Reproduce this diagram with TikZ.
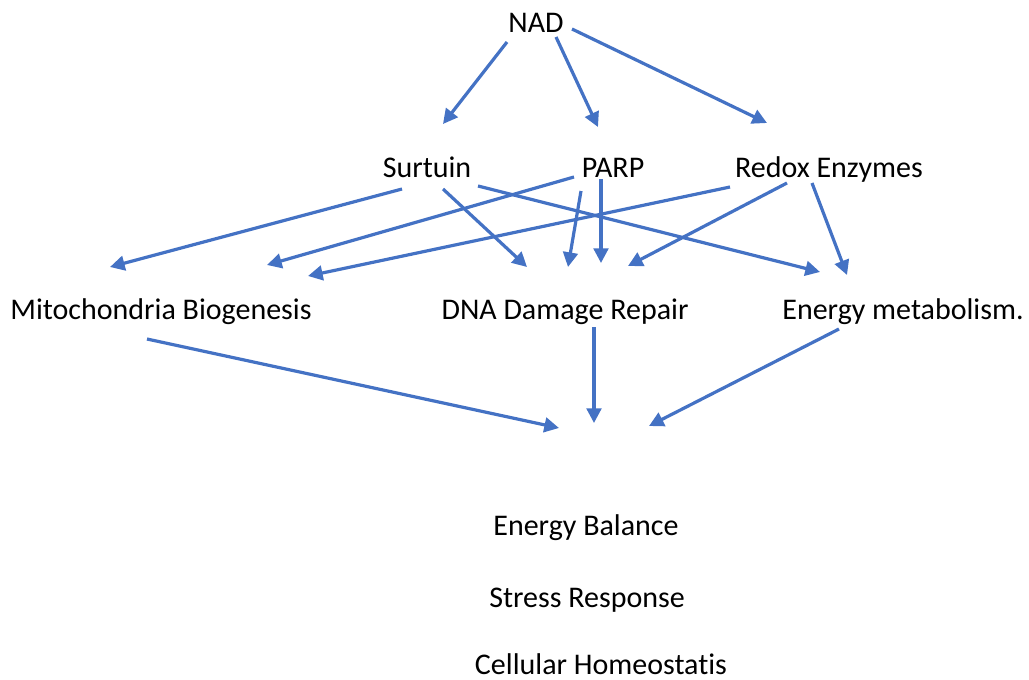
\documentclass[tikz,border=0pt]{standalone}
\usepackage{fontspec}
\setmainfont{Carlito}[Ligatures={NoCommon}]
\usetikzlibrary{arrows.meta}
\definecolor{arrowblue}{HTML}{4472C4}
\tikzset{
  lbl/.style={inner sep=0pt, anchor=base, font=\fontsize{22.5}{27}\selectfont},
  conn/.style={draw=arrowblue, line width=2.4pt, -{Triangle[length=11pt,width=11pt]}}
}
\begin{document}
\begin{tikzpicture}[x=0.75pt,y=-0.75pt]
\useasboundingbox (0,0) rectangle (1029,679);
% labels
\node[lbl] (nad) at (536,32) {NAD};
\node[lbl] (sur) at (427,177) {Surtuin};
\node[lbl] (parp) at (613,177) {PARP};
\node[lbl] (redox) at (829,177) {Redox Enzymes};
\node[lbl] (mito) at (161,319) {Mitochondria Biogenesis};
\node[lbl] (dna) at (565,319) {DNA Damage Repair};
\node[lbl] (ener) at (903,319) {Energy metabolism.};
\node[lbl] (bal) at (586,535) {Energy Balance};
\node[lbl] (stress) at (587,607) {Stress Response};
\node[lbl] (homeo) at (601,674) {Cellular Homeostatis};
% connector end points
\coordinate (nadA) at (507,42);  \coordinate (surT) at (443,124);
\coordinate (nadB) at (556,37);  \coordinate (parpT) at (598,127);
\coordinate (nadC) at (572,29);  \coordinate (redoxT) at (767,123);
\coordinate (surA) at (402,189); \coordinate (mitoT1) at (110,267);
\coordinate (surB) at (443,189); \coordinate (dnaT1) at (527,267);
\coordinate (surC) at (478,186); \coordinate (enerT1) at (820,272);
\coordinate (parpA) at (574,177); \coordinate (mitoT2) at (267,265);
\coordinate (parpB) at (581,191); \coordinate (dnaT2) at (568,267);
\coordinate (parpC) at (601,179); \coordinate (dnaT3) at (601,263);
\coordinate (redoxA) at (730,187); \coordinate (mitoT3) at (308,276);
\coordinate (redoxB) at (787,183); \coordinate (dnaT4) at (628,266);
\coordinate (redoxC) at (812,183); \coordinate (enerT2) at (847,275);
\coordinate (mitoA) at (147,339); \coordinate (outT1) at (559,428);
\coordinate (dnaA) at (594,327);  \coordinate (outT2) at (594,423);
\coordinate (enerA) at (839,329); \coordinate (outT3) at (649,426);
% connectors
\draw[conn] (nadA) -- (surT);
\draw[conn] (nadB) -- (parpT);
\draw[conn] (nadC) -- (redoxT);
\draw[conn] (surA) -- (mitoT1);
\draw[conn] (surB) -- (dnaT1);
\draw[conn] (surC) -- (enerT1);
\draw[conn] (parpA) -- (mitoT2);
\draw[conn] (parpB) -- (dnaT2);
\draw[conn] (parpC) -- (dnaT3);
\draw[conn] (redoxA) -- (mitoT3);
\draw[conn] (redoxB) -- (dnaT4);
\draw[conn] (redoxC) -- (enerT2);
\draw[conn] (mitoA) -- (outT1);
\draw[conn] (dnaA) -- (outT2);
\draw[conn] (enerA) -- (outT3);
\end{tikzpicture}
\end{document}
